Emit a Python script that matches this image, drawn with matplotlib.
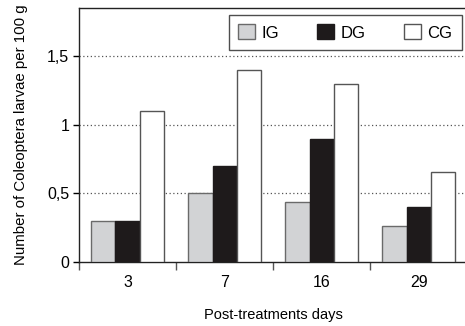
import numpy as np
import matplotlib
matplotlib.use("Agg")
import matplotlib.pyplot as plt
from matplotlib.ticker import FixedLocator, FixedFormatter

plt.rcParams['font.family'] = ['Liberation Sans', 'DejaVu Sans']

days = ["3", "7", "16", "29"]
ig = [0.30, 0.50, 0.44, 0.26]
dg = [0.30, 0.70, 0.90, 0.40]
cg = [1.10, 1.40, 1.30, 0.66]
yticks = [0, 0.5, 1, 1.5]
ylabels = ["0", "0,5", "1", "1,5"]

fig = plt.figure(figsize=(4.65, 3.26), dpi=100)
ax = fig.add_axes([0.170, 0.196, 0.835, 0.779])

x = np.arange(len(days))
w = 0.25
ax.bar(x - w, ig, w, color="#d2d3d5", edgecolor="#6a6a6a", linewidth=1, label="IG", zorder=3)
ax.bar(x, dg, w, color="#1e1a1b", edgecolor="#1e1a1b", linewidth=1, label="DG", zorder=3)
ax.bar(x + w, cg, w, color="white", edgecolor="#555555", linewidth=1, label="CG", zorder=3)

ax.set_xlim(-0.5, 3.5)
ax.set_ylim(0, 1.85)

# group separators as major ticks, labels on minor ticks
ax.xaxis.set_major_locator(FixedLocator([-0.5, 0.5, 1.5, 2.5]))
ax.xaxis.set_major_formatter(FixedFormatter(["", "", "", ""]))
ax.xaxis.set_minor_locator(FixedLocator(x))
ax.xaxis.set_minor_formatter(FixedFormatter(days))
ax.tick_params(axis="x", which="major", direction="out", length=6, width=1, color="#555555")
ax.tick_params(axis="x", which="minor", length=0, pad=9, labelsize=11.5)

ax.yaxis.set_major_locator(FixedLocator(yticks))
ax.yaxis.set_major_formatter(FixedFormatter(ylabels))
ax.tick_params(axis="y", direction="out", length=4, width=1, labelsize=11.5, pad=3)

for v in yticks[1:]:
    ax.axhline(v, color="#555555", linestyle=(0, (1, 2)), linewidth=0.9, zorder=1)

ax.spines["right"].set_visible(False)
for s in ["left", "bottom", "top"]:
    ax.spines[s].set_linewidth(1)
    ax.spines[s].set_color("#222222")

ax.set_ylabel("Number of Coleoptera larvae per 100 g", fontsize=10.8, labelpad=14)
ax.set_xlabel("Post-treatments days", fontsize=10.5, labelpad=13)

leg = ax.legend(loc="upper right", ncol=3, fontsize=12, frameon=True, fancybox=False,
                edgecolor="#222222", handlelength=1.0, handleheight=1.0,
                handletextpad=0.4, columnspacing=2.3, borderpad=0.55,
                borderaxespad=0, bbox_to_anchor=(0.985, 0.972))
leg.get_frame().set_linewidth(1)

fig.savefig("out.png", dpi=100)
